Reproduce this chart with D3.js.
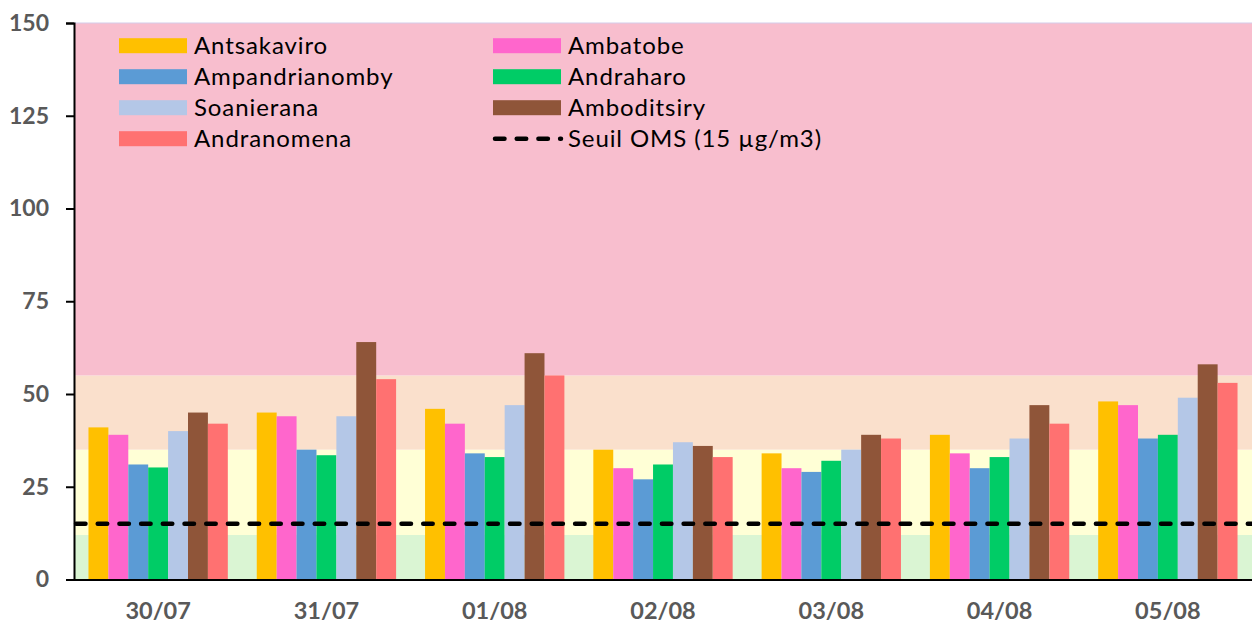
<!DOCTYPE html>
<html>
<head>
<meta charset="utf-8">
<script src="https://cdn.jsdelivr.net/npm/d3@7"></script>
<style>
  html, body { margin: 0; padding: 0; background: #ffffff; }
  svg { display: block; }
</style>
</head>
<body>
<svg id="chart" width="1252" height="625"></svg>
<script>
// ---- data ----
const dates = ["30/07", "31/07", "01/08", "02/08", "03/08", "04/08", "05/08"];
const seriesNames = ["Antsakaviro", "Ambatobe", "Ampandrianomby", "Andraharo", "Soanierana", "Amboditsiry", "Andranomena"];
const seriesColors = ["#FFC000", "#FF66CC", "#5B9BD5", "#00CC66", "#B4C7E7", "#8F5539", "#FF7171"];
const antsakaviro    = [41, 45, 46, 35, 34, 39, 48];
const ambatobe       = [39, 44, 42, 30, 30, 34, 47];
const ampandrianomby = [31, 35, 34, 27, 29, 30, 38];
const andraharo      = [30.2, 33.5, 33, 31, 32, 33, 39];
const soanierana     = [40, 44, 47, 37, 35, 38, 49];
const amboditsiry    = [45, 64, 61, 36, 39, 47, 58];
const andranomena    = [42, 54, 55, 33, 38, 42, 53];
const seriesValues = [antsakaviro, ambatobe, ampandrianomby, andraharo, soanierana, amboditsiry, andranomena];
const thresholdLabel = "Seuil OMS (15 µg/m3)";
const thresholdValue = 15;
const bandBreaks = [0, 12, 35, 55, 150];
const bandColors = ["#DAF5D3", "#FFFFD6", "#FAE0CC", "#F8BECE"];
const yTicks = [0, 25, 50, 75, 100, 125, 150];

// ---- layout ----
const svg = d3.select("#chart");
const plotLeft = 74, plotRight = 1252, plotTop = 23, plotBottom = 579.5;
const fontFam = "Lato, 'Open Sans', sans-serif";

const y = d3.scaleLinear().domain([0, 150]).range([plotBottom, plotTop]);
const x0 = d3.scaleBand().domain(dates).range([plotLeft, plotRight]).paddingInner(0.172).paddingOuter(0.086);
const x1 = d3.scaleBand().domain(seriesNames).range([0, x0.bandwidth()]).padding(0);

// background bands
const bands = bandColors.map((c, i) => ({ lo: bandBreaks[i], hi: bandBreaks[i + 1], c }));
svg.append("g").selectAll("rect").data(bands).join("rect")
  .attr("x", plotLeft).attr("width", plotRight - plotLeft)
  .attr("y", d => y(d.hi)).attr("height", d => y(d.lo) - y(d.hi))
  .attr("fill", d => d.c);

// top border
svg.append("line").attr("x1", plotLeft).attr("x2", plotRight).attr("y1", y(150)).attr("y2", y(150))
  .attr("stroke", "#D3CBEA").attr("stroke-width", 1.2);

// bars
const groups = svg.append("g").selectAll("g").data(dates).join("g")
  .attr("transform", d => `translate(${x0(d)},0)`);
groups.selectAll("rect")
  .data((d, i) => seriesNames.map((s, j) => ({ s, j, v: seriesValues[j][i] })))
  .join("rect")
  .attr("x", d => x1(d.s))
  .attr("width", x1.bandwidth())
  .attr("y", d => y(d.v))
  .attr("height", d => y(0) - y(d.v))
  .attr("fill", d => seriesColors[d.j]);

// threshold line
svg.append("line")
  .attr("x1", plotLeft + 2).attr("x2", plotRight)
  .attr("y1", y(thresholdValue)).attr("y2", y(thresholdValue))
  .attr("stroke", "#000").attr("stroke-width", 4.5)
  .attr("stroke-dasharray", "9.5,12.2").attr("stroke-linecap", "round");

// y axis
const yAxis = d3.axisLeft(y).tickValues(yTicks).tickSize(8).tickPadding(17);
const yg = svg.append("g").attr("transform", `translate(${plotLeft},0)`).call(yAxis);
yg.select(".domain").attr("stroke", "#000").attr("stroke-width", 2);
yg.selectAll(".tick line").attr("stroke", "#000").attr("stroke-width", 2);
yg.selectAll(".tick text").attr("fill", "#595959")
  .style("font-family", fontFam).style("font-size", "23px").style("font-weight", "bold");

// x axis
const xAxis = d3.axisBottom(x0).tickSize(0).tickPadding(24);
const xg = svg.append("g").attr("transform", `translate(0,${plotBottom})`).call(xAxis);
xg.select(".domain").attr("stroke", "#000").attr("stroke-width", 2);
xg.selectAll(".tick text").attr("fill", "#595959").attr("y", 39.5).attr("dy", 0)
  .style("font-family", fontFam).style("font-size", "23.5px").style("font-weight", "bold");

// legend
const legendItems = seriesNames.map((s, i) => ({ label: s, color: seriesColors[i], type: "rect" }))
  .concat([{ label: thresholdLabel, type: "line" }]);
const colX = [119, 493], rowY0 = 45.7, rowStep = 31;
const lg = svg.append("g").selectAll("g").data(legendItems).join("g")
  .attr("transform", (d, i) => `translate(${colX[i % 2]},${rowY0 + Math.floor(i / 2) * rowStep})`);
lg.filter(d => d.type === "rect").append("rect")
  .attr("x", 0).attr("y", -7.5).attr("width", 68).attr("height", 15).attr("fill", d => d.color);
lg.filter(d => d.type === "line").append("line")
  .attr("x1", 2).attr("x2", 68).attr("y1", 0).attr("y2", 0)
  .attr("stroke", "#000").attr("stroke-width", 4.5)
  .attr("stroke-dasharray", "9.5,12.2").attr("stroke-linecap", "round");
lg.append("text").attr("x", 75).attr("y", 0).attr("dy", "0.36em")
  .style("font-family", fontFam).style("font-size", "24px").style("letter-spacing", "0.9px")
  .attr("fill", "#000").text(d => d.label);
</script>
</body>
</html>
